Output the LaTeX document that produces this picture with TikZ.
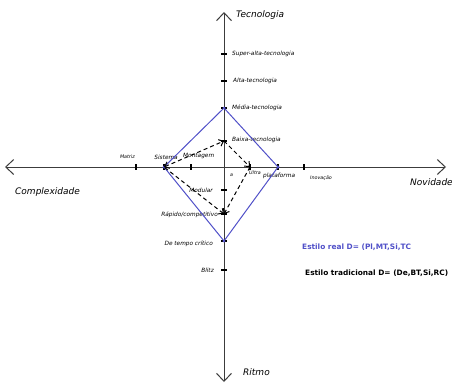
\documentclass[tikz,border=0pt]{standalone}
\usepackage{fontspec}
\setmainfont{DejaVu Sans}
\usepackage{xcolor}
\usetikzlibrary{arrows.meta}
\definecolor{azulreal}{RGB}{80,80,200}
\definecolor{cinzaeixo}{RGB}{60,60,60}
\tikzset{
eixo/.style={cinzaeixo,line width=1pt,{Straight Barb[length=8pt,width=15pt]}-{Straight Barb[length=8pt,width=15pt]}},
marca/.style={line width=1.5pt},
rot/.style={font=\fontsize{5.8}{7}\selectfont\itshape,inner sep=0pt},
rotp/.style={font=\fontsize{4.8}{6}\selectfont\itshape,inner sep=0pt},
titulo/.style={font=\fontsize{9}{11}\selectfont\itshape,inner sep=0pt},
estilo/.style={font=\fontsize{7.4}{9}\selectfont\bfseries,inner sep=0pt,anchor=west},
real/.style={azulreal,line width=1pt},
trad/.style={dashed,line width=1pt,dash pattern=on 4pt off 3pt}
}
\begin{document}
\begin{tikzpicture}[x=1pt,y=-1pt,>={Straight Barb[length=4pt,width=7pt]}]
\useasboundingbox (0,0) rectangle (452,383);
% eixos
\coordinate (esq) at (5,167);
\coordinate (dir) at (446,167);
\coordinate (topo) at (224,12);
\coordinate (base) at (224,382);
\draw[eixo] (esq)--(dir);
\draw[eixo] (base)--(topo);
\foreach \y in {54,81,108,141,190,214,241,270}
  \draw[marca] (221,\y)--(227,\y);
\foreach \x in {136,164,191,250,278,304}
  \draw[marca] (\x,164)--(\x,170);
% titulos dos eixos
\node[titulo,anchor=west] (tec) at (236,15) {Tecnologia};
\node[titulo,anchor=west] (ritmo) at (243,372) {Ritmo};
\node[titulo,anchor=west] (comp) at (15,192) {Complexidade};
\node[titulo,anchor=west] (nov) at (410,182) {Novidade};
% tecnologia
\node[rot,anchor=west] (superalta) at (232,54) {Super-alta-tecnologia};
\node[rot,anchor=west] (alta) at (233,81) {Alta-tecnologia};
\node[rot,anchor=west] (media) at (232,108) {Média-tecnologia};
\node[rot,anchor=west] (baixa) at (232,140) {Baixa-tecnologia};
% complexidade
\node[rotp,anchor=east] (matriz) at (135,157) {Matriz};
\node[rot,anchor=east] (sistema) at (178,157) {Sistema};
\node[rot,anchor=west] (montagem) at (183,156) {Montagem};
% novidade
\node[rotp,anchor=west] (a) at (230,175) {a};
\node[rotp,anchor=west] (ultra) at (249,173) {Ultra};
\node[rot,anchor=west] (plataforma) at (263,176) {plataforma};
\node[rotp,anchor=west] (inovacao) at (310,178) {Inovação};
% ritmo
\node[rot,anchor=east] (modular) at (213,190) {Modular};
\node[rot,anchor=east] (rapido) at (218,215) {Rápido/competitivo};
\node[rot,anchor=east] (critico) at (213,244) {De tempo crítico};
\node[rot,anchor=east] (blitz) at (214,270) {Blitz};
% estilo real
\coordinate (mtec) at (224,108);
\coordinate (plat) at (278,167);
\coordinate (tcrit) at (224,241);
\coordinate (sist) at (164,167);
\draw[real] (mtec)--(plat)--(tcrit)--(sist)--cycle;
\foreach \p in {mtec,plat,tcrit,sist}
  \fill[azulreal] (\p) circle (1.5pt);
% estilo tradicional
\coordinate (btec) at (224,141);
\coordinate (ult) at (250,167);
\coordinate (rcomp) at (224,214);
\draw[trad,<->] (sist)--(btec);
\draw[trad,->] (btec)--(ult);
\draw[trad,->] (ult)--(rcomp);
\draw[trad,<-] (rcomp)--(sist);
% legendas
\node[estilo,azulreal] (lreal) at (302,247) {Estilo real D= (Pl,MT,Si,TC};
\node[estilo] (ltrad) at (305,273) {Estilo tradicional D= (De,BT,Si,RC)};
\end{tikzpicture}
\end{document}
